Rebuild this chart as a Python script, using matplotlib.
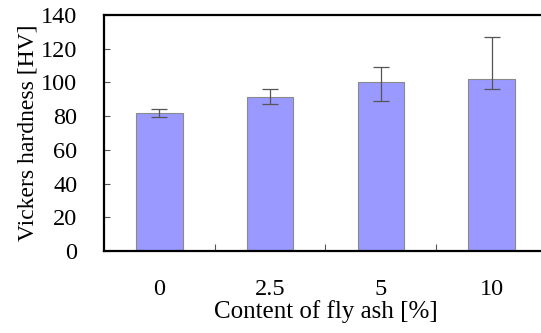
import matplotlib.pyplot as plt
import numpy as np

# Data
categories = ['0', '2.5', '5', '10']
hardness = [82, 91.5, 100, 102]
err_low = [2.5, 4, 11, 6]
err_high = [2.5, 4.5, 9, 25]
yticks = [0, 20, 40, 60, 80, 100, 120, 140]

plt.rcParams['font.family'] = ['Liberation Serif', 'DejaVu Serif']

fig = plt.figure(figsize=(5.41, 3.33), dpi=100)
ax = fig.add_axes([0.192, 0.246, 0.819, 0.709])

x = np.arange(len(categories))
ax.bar(x, hardness, width=0.42, color='#9999FF', edgecolor='#8a8a8a', linewidth=0.8, zorder=2)
ax.errorbar(x, hardness, yerr=[err_low, err_high], fmt='none', ecolor='#555555',
            elinewidth=0.9, capsize=5.5, capthick=0.9, zorder=3)

ax.set_xlim(-0.5, len(categories) - 0.5)
ax.set_ylim(0, 140)
ax.set_yticks(yticks)
ax.set_xticks(x)
ax.set_xticklabels(categories)
ax.set_xticks(x[:-1] + 0.5, minor=True)

ax.tick_params(axis='y', direction='in', length=4.5, width=0.8, color='#555555',
               labelsize=17.5, pad=19)
ax.tick_params(axis='x', which='major', length=0, labelsize=17.5, pad=20)
ax.tick_params(axis='x', which='minor', direction='in', length=5, width=0.8, color='#555555')

for s in ax.spines.values():
    s.set_linewidth(1.6)
    s.set_color('black')

ax.set_ylabel('Vickers hardness [HV]', fontsize=17, labelpad=2)
ax.set_xlabel('Content of fly ash [%]', fontsize=18, labelpad=0)

fig.savefig('out.png', dpi=100)
